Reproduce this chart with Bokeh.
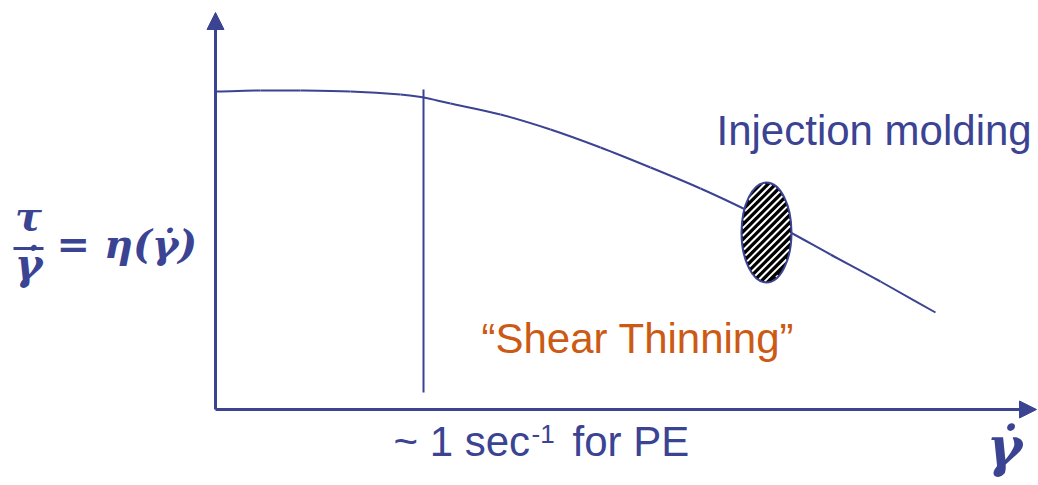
import numpy as np
from bokeh.plotting import figure
from bokeh.models import Range1d, Arrow, NormalHead
from bokeh.core.properties import value
from bokeh.embed import file_html
from bokeh.resources import INLINE

NAVY = "#3b4393"
ORANGE = "#cc5a14"

# Viscosity curve (shear rate position, viscosity position) in canvas units
curve_x = [215, 260, 300, 350, 400, 423, 450, 500, 550, 600, 650, 700, 747, 790, 830, 880, 935]
curve_y = [91, 90, 90, 91, 94, 97, 103, 114, 129, 147, 167, 188, 210, 232, 254, 281, 312]

# Axes: origin and arrow tips
origin = (215, 409)
y_tip = (215, 12)
x_tip = (1036, 409)

# Marker for ~1 s^-1
marker_x = [423]
marker_top = [89]
marker_bottom = [392]

# Injection molding region
region_x = 766
region_y = 232
region_w = 50
region_h = 100
stripe_step = 7.5

# Labels (y is the drawing anchor of each text)
label_text = ["Injection molding", "\u201cShear Thinning\u201d"]
label_x = [716, 481]
label_y = [130, 338]
label_color = [NAVY, ORANGE]

rate_parts = ["~ 1 sec", "-1", "for PE"]
rate_x = [393, 531, 572]
rate_y = [441, 433, 441]
rate_size = ["42px", "26px", "42px"]

p = figure(width=1038, height=485, output_backend="svg", toolbar_location=None,
           x_range=Range1d(0, 1038), y_range=Range1d(485, 0),
           min_border=0, outline_line_color=None, background_fill_color="white")
p.axis.visible = False
p.grid.visible = False

# Axes with filled heads
for tip in (y_tip, x_tip):
    p.add_layout(Arrow(end=NormalHead(size=17, fill_color=NAVY, line_color=NAVY, line_width=1),
                       x_start=origin[0], y_start=origin[1], x_end=tip[0], y_end=tip[1],
                       line_color=NAVY, line_width=3))

# Viscosity curve, drawn as a smooth Catmull-Rom chain of cubic Beziers
px = np.array(curve_x, dtype=float)
py = np.array(curve_y, dtype=float)
ex = np.concatenate([[2 * px[0] - px[1]], px, [2 * px[-1] - px[-2]]])
ey = np.concatenate([[2 * py[0] - py[1]], py, [2 * py[-1] - py[-2]]])
n = len(px) - 1
bx0, by0 = ex[1:n + 1], ey[1:n + 1]
bx1, by1 = ex[2:n + 2], ey[2:n + 2]
cx0 = bx0 + (ex[2:n + 2] - ex[0:n]) / 6
cy0 = by0 + (ey[2:n + 2] - ey[0:n]) / 6
cx1 = bx1 - (ex[3:n + 3] - ex[1:n + 1]) / 6
cy1 = by1 - (ey[3:n + 3] - ey[1:n + 1]) / 6
p.bezier(x0=bx0, y0=by0, x1=bx1, y1=by1, cx0=cx0, cy0=cy0, cx1=cx1, cy1=cy1,
         line_color=NAVY, line_width=2)

# Vertical marker
p.segment(x0=marker_x, y0=marker_top, x1=marker_x, y1=marker_bottom, line_color=NAVY, line_width=2)

# Injection molding ellipse: black fill with white diagonal stripes
p.ellipse(x=[region_x], y=[region_y], width=[region_w], height=[region_h],
          fill_color="black", line_color=None)
a, b = region_w / 2 - 1, region_h / 2 - 1
sx0, sy0, sx1, sy1 = [], [], [], []
for c in np.arange(-(a + b), a + b, stripe_step):
    # stripe v = c - u  (screen y grows downward, so stripes rise to the right)
    A = 1 / a**2 + 1 / b**2
    B = -2 * c / b**2
    C = c**2 / b**2 - 1
    disc = B * B - 4 * A * C
    if disc <= 0:
        continue
    u0 = (-B - np.sqrt(disc)) / (2 * A)
    u1 = (-B + np.sqrt(disc)) / (2 * A)
    sx0.append(region_x + u0); sy0.append(region_y + c - u0)
    sx1.append(region_x + u1); sy1.append(region_y + c - u1)
p.segment(x0=sx0, y0=sy0, x1=sx1, y1=sy1, line_color="white", line_width=2)
p.ellipse(x=[region_x], y=[region_y], width=[region_w], height=[region_h],
          fill_color=None, line_color=NAVY, line_width=2)

# Labels
p.text(x=label_x, y=label_y, text=label_text, text_color=label_color,
       text_font=value("Liberation Sans"), text_font_size="42px", text_baseline="alphabetic")

for t, x, y, s in zip(rate_parts, rate_x, rate_y, rate_size):
    p.text(x=[x], y=[y], text=[t], text_color=NAVY, text_font=value("Liberation Sans"),
           text_font_size=s, text_baseline="alphabetic")

# Equation tau / gamma-dot = eta(gamma-dot)
eq_font = value("DejaVu Serif")
p.text(x=[28], y=[215], text=["\u03c4"], text_color=NAVY, text_font=eq_font,
       text_font_style="bold italic", text_font_size="40px", text_align="center",
       text_baseline="alphabetic")
p.segment(x0=[13], y0=[248], x1=[43], y1=[248], line_color=NAVY, line_width=3)
p.text(x=[28], y=[264], text=["\u03b3\u0307"], text_color=NAVY, text_font=eq_font,
       text_font_style="bold italic", text_font_size="42px", text_align="center",
       text_baseline="alphabetic")
p.text(x=[56], y=[243], text=["= \u03b7(\u03b3\u0307)"], text_color=NAVY, text_font=eq_font,
       text_font_style="bold italic", text_font_size="40px", text_baseline="alphabetic")

# Shear rate axis symbol
p.text(x=[1004], y=[446], text=["\u03b3\u0307"], text_color=NAVY, text_font=eq_font,
       text_font_style="bold italic", text_font_size="54px", text_align="center",
       text_baseline="alphabetic")

open("out.html", "w").write(file_html(p, INLINE))
